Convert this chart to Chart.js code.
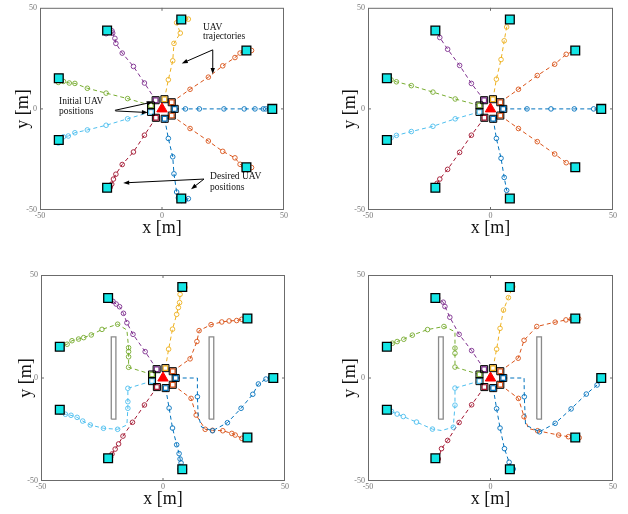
<!DOCTYPE html>
<html>
<head>
<meta charset="utf-8">
<script src="https://cdn.jsdelivr.net/npm/chart.js@4.4.1/dist/chart.umd.min.js"></script>
<style>
  html, body { margin: 0; padding: 0; background: #fff; }
  body { width: 628px; height: 514px; position: relative; overflow: hidden; }
  canvas { position: absolute; }
</style>
</head>
<body>
<canvas id="panelA" width="300" height="240" style="left:0px;top:0px"></canvas>
<canvas id="panelB" width="308" height="240" style="left:320px;top:0px"></canvas>
<canvas id="panelC" width="300" height="254" style="left:0px;top:260px"></canvas>
<canvas id="panelD" width="308" height="254" style="left:320px;top:260px"></canvas>
<script>
// UAV colours (MATLAB default order, cycling)
const uavColors = ['#0072BD', '#D95319', '#EDB120', '#7E2F8E', '#77AC30', '#4DBEEE', '#A2142F', '#0072BD', '#D95319'];
const axisTicks = [-50, 0, 50];

// initial and desired UAV positions [x, y]
const startPos = [[5.2, 0], [4.0, 3.3], [1.0, 4.8], [-2.6, 4.3], [-4.5, 1.7], [-4.5, -1.5], [-2.5, -4.4], [1.1, -4.9], [4.0, -3.3]];
const goalPos = [[45.2, 0], [34.6, 28.9], [7.9, 44.2], [-22.5, 38.8], [-42.3, 15.2], [-42.3, -15.4], [-22.5, -39.0], [7.9, -44.3], [34.6, -28.9]];
const basePos = [[0, 0]];

// obstacles [xmin, xmax, ymin, ymax]
const obstacles = [[-21.2, -19.3, -20, 20], [18.9, 20.8, -20, 20]];

// trajectories, one per UAV; a third value 0 marks a bend of the path with no sample marker
const trajA = [
  [[5.2, 0], [9.6, 0], [15.3, 0], [25.4, 0], [33.7, 0], [38.1, 0], [41.5, 0], [42.5, 0], [44, 0], [45.4, 0]],
  [[4.0, 3.3], [11.5, 9.7], [19.0, 15.7], [24.9, 21.3], [29.9, 25.4], [32.0, 27.6], [33.5, 28.3], [35.4, 28.9], [36.7, 28.9]],
  [[1.0, 4.8], [2.6, 14.4], [4.4, 23.8], [4.9, 32.4], [7.5, 37.5], [6.0, 42.6], [7.2, 44.2], [9.6, 44.6], [10.8, 44.4]],
  [[-2.6, 4.3], [-7.2, 12.8], [-11.7, 21.0], [-16.3, 27.6], [-18.9, 32.4], [-19.3, 34.9], [-20.2, 37.5], [-20.5, 38.6], [-22.9, 37.2]],
  [[-4.5, 1.7], [-14.1, 5.1], [-22.9, 7.8], [-30.6, 10.2], [-35.7, 12.6], [-38.0, 12.8], [-40.4, 13.6], [-42.5, 13.1], [-42.8, 14.2]],
  [[-4.5, -1.5], [-14.1, -4.9], [-22.9, -8.1], [-30.6, -10.4], [-35.7, -11.8], [-38.4, -13.4], [-40.4, -13.8], [-42.0, -15.6], [-42.5, -16.9]],
  [[-2.5, -4.4], [-7.2, -13.0], [-11.7, -21.3], [-16.3, -27.5], [-18.9, -32.3], [-19.9, -34.7], [-20.6, -37.2], [-21.2, -38.7], [-22.9, -39.5]],
  [[1.1, -4.9], [2.6, -14.6], [4.4, -23.7], [4.9, -32.1], [6.0, -41.1], [6.7, -44.0], [8.1, -45.3], [10.8, -44.4], [9.5, -45.0]],
  [[4.0, -3.3], [11.5, -9.7], [19.0, -15.9], [24.9, -21.0], [29.9, -24.2], [32.0, -27.4], [33.5, -28.3], [35.4, -29.0], [36.7, -29.0]]
];
const trajB = [
  [[5.2, 0], [14.9, 0], [24.7, 0], [34.2, 0], [42.1, 0], [45.5, -0.3]],
  [[4.0, 3.3], [11.4, 9.7], [19.1, 16.5], [26.2, 22.1], [30.9, 27.0], [35.0, 29.2]],
  [[1.0, 4.8], [2.4, 14.7], [4.3, 24.4], [5.6, 33.7], [6.6, 40.5], [8.4, 44.3]],
  [[-2.6, 4.3], [-7.8, 12.6], [-12.6, 21.5], [-17.5, 29.5], [-20.7, 35.3], [-21.8, 38.2]],
  [[-4.5, 1.7], [-14.4, 4.9], [-23.5, 8.3], [-32.3, 11.5], [-38.4, 13.4], [-40.6, 14.4]],
  [[-4.5, -1.5], [-14.4, -4.9], [-23.5, -8.6], [-32.3, -11.2], [-38.4, -13.1], [-40.6, -14.3]],
  [[-2.5, -4.4], [-7.8, -13.0], [-12.6, -21.5], [-17.5, -29.9], [-20.7, -34.7], [-21.8, -36.8]],
  [[1.1, -4.9], [2.4, -14.6], [4.3, -24.4], [5.6, -33.9], [6.6, -40.3], [8.4, -43.7]],
  [[4.0, -3.3], [11.4, -9.7], [19.1, -16.2], [26.2, -22.3], [30.9, -26.6], [35.0, -28.4]]
];
const trajC = [
  [[5.2, 0], [14.1, 0, 0], [14.1, -9.1], [14.4, -18.0, 0], [15.8, -23.8, 0], [20.3, -25.6], [26.4, -21.7], [32.0, -14.7], [36.8, -7.9], [39.1, -2.9], [42.2, -0.5], [44.0, 0]],
  [[4.0, 3.3], [11.1, 9.3], [13.9, 17.7], [14.8, 23.0], [19.7, 25.9], [24.1, 27.2], [27.1, 27.7], [30.2, 27.9], [32.3, 28.5], [34.3, 28.8]],
  [[1.0, 4.8], [2.3, 14.0], [3.9, 23.7], [5.6, 30.9], [6.3, 34.2], [6.8, 36.6], [7.0, 40.6], [8.1, 43.9], [9.0, 44.0]],
  [[-2.6, 4.3], [-7.3, 12.8], [-12.3, 21.2], [-14.8, 26.8], [-16.2, 31.4], [-17.8, 34.6], [-19.2, 35.9], [-20.5, 37.2], [-22.2, 37.8]],
  [[-4.5, 1.7], [-14.1, 5.2], [-14.1, 10.3], [-14.1, 12.8], [-14.1, 14.7], [-14.8, 23.3, 0], [-18.6, 26.1], [-25.0, 23.6], [-29.4, 20.9], [-32.5, 19.6], [-34.6, 18.9], [-37.3, 18.1], [-39.3, 16.4], [-41.5, 15.6]],
  [[-4.5, -1.5], [-14.4, -5.0], [-14.4, -11.5], [-14.4, -14.7], [-14.8, -22.8, 0], [-18.6, -24.9], [-24.4, -24.4], [-29.8, -22.8], [-32.9, -20.9], [-35.2, -19.1], [-37.7, -18.1], [-40.0, -17.6], [-42.0, -16.5]],
  [[-2.5, -4.4], [-7.6, -13.1], [-12.5, -21.5], [-16.4, -28.2], [-18.2, -32.0], [-19.6, -34.5], [-20.9, -36.9], [-22.7, -39.0], [-21.5, -38.5]],
  [[1.1, -4.9], [2.5, -14.6], [3.9, -24.3], [5.6, -32.4], [6.6, -36.7], [7.0, -39.3], [7.4, -41.2], [7.0, -44.2], [8.8, -44.2]],
  [[4.0, -3.3], [11.5, -9.9], [13.6, -18.0], [17.3, -24.9], [20.3, -25.4], [24.5, -25.6], [28.2, -26.9], [29.6, -27.7], [32.3, -29.3]]
];
const trajD = [
  [[5.2, 0], [13.7, 0, 0], [13.8, -9.1], [14.3, -22.8, 0], [20.0, -26.1], [26.4, -22.0], [32.9, -15.0], [39.1, -7.8], [43.5, -3.4], [44.4, -1.3], [45.5, -0.3]],
  [[4.0, 3.3], [11.3, 9.6], [13.7, 18.3], [18.9, 25.0], [26.4, 27.1], [30.8, 28.2], [33.0, 28.6], [36.0, 28.8]],
  [[1.0, 4.8], [2.5, 14.0], [3.9, 24.1], [5.3, 33.0], [7.3, 39.0], [9.1, 44.3]],
  [[-2.6, 4.3], [-7.7, 13.3], [-12.8, 21.2], [-16.6, 29.5], [-18.6, 34.7], [-19.3, 36.8], [-21.6, 38.8]],
  [[-4.5, 1.7], [-14.5, 5.3], [-14.5, 12.0], [-14.5, 14.5], [-14.5, 22.5, 0], [-19.0, 25.0], [-25.7, 23.5], [-31.9, 20.8], [-35.4, 18.8], [-38.1, 17.7], [-40.0, 16.9], [-41.8, 15.6]],
  [[-4.5, -1.5], [-14.5, -4.9], [-14.5, -13.2], [-15.2, -23.9], [-20.0, -25.5, 0], [-23.7, -24.8], [-30.2, -21.4], [-35.6, -18.7], [-38.1, -17.5], [-40.4, -16.2]],
  [[-2.5, -4.4], [-7.7, -13.0], [-12.8, -21.6], [-17.5, -30.3], [-20.0, -34.3], [-21.3, -39.3]],
  [[1.1, -4.9], [2.5, -14.9], [3.9, -24.3], [5.7, -34.3], [7.6, -40.9], [9.3, -44.2]],
  [[4.0, -3.3], [11.4, -9.9], [13.7, -18.8], [15.5, -24.5, 0], [19.2, -25.6], [27.8, -27.7], [31.8, -28.5], [36.2, -29.0]]
];

// annotations of the first panel (data coordinates)
const noteTexts = [
  ['UAV', 16.8, 40.3], ['trajectories', 16.8, 36.0],
  ['Initial UAV', -42.2, 3.6], ['positions', -42.2, -1.2],
  ['Desired UAV', 19.7, -33.6], ['positions', 19.7, -38.9]
];
const noteArrows = [
  [20.8, 29.2, 8.1, 22.5], [20.8, 29.2, 20.8, 17.3],
  [-19.3, -0.7, -3.8, 3.4], [-19.1, -1.0, -5.8, -1.8],
  [17.2, -34.7, -15.9, -36.6], [17.2, -34.7, 11.9, -39.7]
];

const SERIF = '"Liberation Serif", "DejaVu Serif", serif';

// frame round the plot area plus the small inward ticks at 0
const framePlugin = {
  id: 'frame',
  afterDatasetsDraw(chart) {
    const {ctx, chartArea: a, scales} = chart;
    const x0 = scales.x.getPixelForValue(0);
    const y0 = scales.y.getPixelForValue(0);
    ctx.save();
    ctx.strokeStyle = '#6b6b6b';
    ctx.lineWidth = 1;
    ctx.strokeRect(a.left + 0.5, a.top + 0.5, a.right - a.left - 1, a.bottom - a.top - 1);
    ctx.beginPath();
    ctx.moveTo(x0, a.bottom); ctx.lineTo(x0, a.bottom - 3);
    ctx.moveTo(x0, a.top); ctx.lineTo(x0, a.top + 3);
    ctx.moveTo(a.left, y0); ctx.lineTo(a.left + 3, y0);
    ctx.moveTo(a.right, y0); ctx.lineTo(a.right - 3, y0);
    ctx.stroke();
    ctx.restore();
  }
};

const notesPlugin = {
  id: 'notes',
  afterDraw(chart) {
    const {ctx, scales} = chart;
    const px = v => scales.x.getPixelForValue(v);
    const py = v => scales.y.getPixelForValue(v);
    ctx.save();
    ctx.fillStyle = '#111';
    ctx.font = '9.5px ' + SERIF;
    ctx.textBaseline = 'middle';
    noteTexts.forEach(t => ctx.fillText(t[0], px(t[1]), py(t[2])));
    ctx.strokeStyle = '#000';
    ctx.fillStyle = '#000';
    ctx.lineWidth = 1;
    noteArrows.forEach(a => {
      const x1 = px(a[0]), y1 = py(a[1]), x2 = px(a[2]), y2 = py(a[3]);
      const ang = Math.atan2(y2 - y1, x2 - x1);
      ctx.beginPath();
      ctx.moveTo(x1, y1);
      ctx.lineTo(x2 - 4 * Math.cos(ang), y2 - 4 * Math.sin(ang));
      ctx.stroke();
      ctx.beginPath();
      ctx.moveTo(x2, y2);
      ctx.lineTo(x2 - 6 * Math.cos(ang) + 2.2 * Math.sin(ang), y2 - 6 * Math.sin(ang) - 2.2 * Math.cos(ang));
      ctx.lineTo(x2 - 6 * Math.cos(ang) - 2.2 * Math.sin(ang), y2 - 6 * Math.sin(ang) + 2.2 * Math.cos(ang));
      ctx.closePath();
      ctx.fill();
    });
    ctx.restore();
  }
};

function rectPath(o) {
  return [[o[0], o[2]], [o[1], o[2]], [o[1], o[3]], [o[0], o[3]], [o[0], o[2]]];
}

function makePanel(id, trajs, withObstacles, lay, extraPlugins) {
  const datasets = [];
  datasets.push({
    data: basePos, pointStyle: 'triangle', pointRadius: 6,
    pointBackgroundColor: '#ff0000', pointBorderColor: '#ff0000', pointBorderWidth: 1, order: 0
  });
  datasets.push({
    data: goalPos, pointStyle: 'rect', pointRadius: 6.2,
    pointBackgroundColor: '#14e6e6', pointBorderColor: '#000', pointBorderWidth: 1.3, order: 1
  });
  datasets.push({
    data: startPos, pointStyle: 'rect', pointRadius: 5,
    pointBackgroundColor: 'rgba(0,0,0,0)', pointBorderColor: '#000', pointBorderWidth: 1, order: 2
  });
  datasets.push({
    data: startPos, pointStyle: 'rect', pointRadius: 3.3,
    pointBackgroundColor: '#fff', pointBorderColor: uavColors, pointBorderWidth: 1.2, order: 3
  });
  trajs.forEach((t, i) => {
    datasets.push({
      data: t, showLine: true, borderColor: uavColors[i], borderWidth: 1, borderDash: [4, 3],
      pointStyle: 'circle',
      pointRadius: c => (c.raw && c.raw[2] === 0) ? 0 : 2.3,
      pointBorderColor: uavColors[i], pointBackgroundColor: 'rgba(0,0,0,0)', pointBorderWidth: 0.9,
      order: 10 + i
    });
  });
  if (withObstacles) {
    obstacles.forEach(o => {
      datasets.push({
        data: rectPath(o), showLine: true, borderColor: '#8a8a8a', borderWidth: 1.3,
        pointRadius: 0, order: 30
      });
    });
  }

  const tickFont = {family: SERIF, size: 8};
  const titleFont = {family: SERIF, size: 18};

  return new Chart(document.getElementById(id), {
    type: 'scatter',
    data: {datasets: datasets},
    options: {
      responsive: false,
      animation: false,
      events: [],
      layout: {padding: {top: lay.padTop, right: lay.padRight, left: 0, bottom: 0}},
      plugins: {legend: {display: false}, tooltip: {enabled: false}},
      scales: {
        x: {
          type: 'linear', min: -50, max: 50,
          afterBuildTicks: s => { s.ticks = axisTicks.map(v => ({value: v})); },
          afterFit: s => { s.height = lay.xAxisH; },
          ticks: {font: tickFont, color: '#777', padding: 1, maxRotation: 0, autoSkip: false},
          grid: {display: false, drawTicks: false},
          border: {display: false},
          title: {display: true, text: 'x [m]', font: titleFont, color: '#111', padding: {top: 0, bottom: lay.xTitlePad}}
        },
        y: {
          type: 'linear', min: -50, max: 50,
          afterBuildTicks: s => { s.ticks = axisTicks.map(v => ({value: v})); },
          afterFit: s => { s.width = lay.yAxisW; },
          ticks: {font: tickFont, color: '#777', padding: 3, autoSkip: false},
          grid: {display: false, drawTicks: false},
          border: {display: false},
          title: {display: true, text: 'y [m]', font: titleFont, color: '#111', padding: {top: lay.yTitlePad, bottom: 0}}
        }
      }
    },
    plugins: [framePlugin].concat(extraPlugins || [])
  });
}

makePanel('panelA', trajA, false, {padTop: 3, padRight: 16, yAxisW: 40, xAxisH: 30, xTitlePad: 1, yTitlePad: 12}, [notesPlugin]);
makePanel('panelB', trajB, false, {padTop: 3, padRight: 15, yAxisW: 48, xAxisH: 30, xTitlePad: 1, yTitlePad: 19});
makePanel('panelC', trajC, true, {padTop: 15, padRight: 15, yAxisW: 41, xAxisH: 33, xTitlePad: 4, yTitlePad: 15});
makePanel('panelD', trajD, true, {padTop: 15, padRight: 15, yAxisW: 48, xAxisH: 33, xTitlePad: 4, yTitlePad: 19});
</script>
</body>
</html>
